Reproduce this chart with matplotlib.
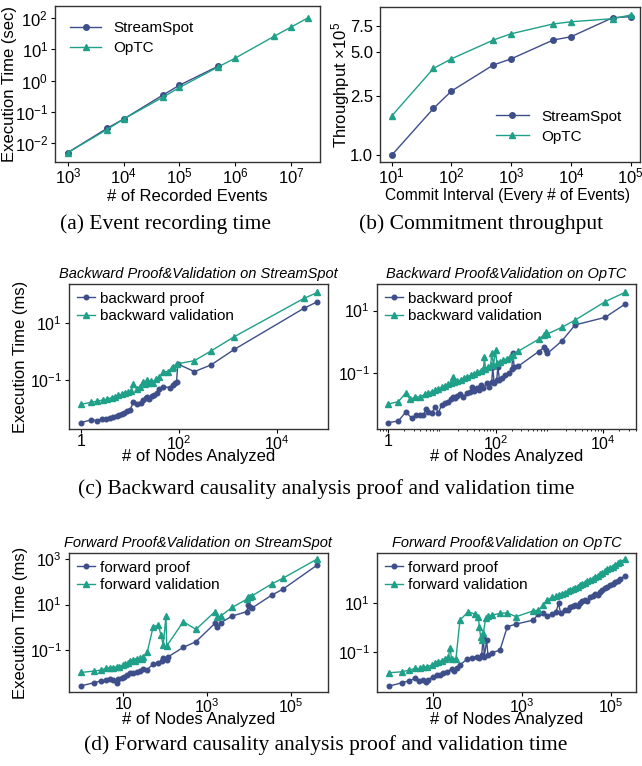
import matplotlib
matplotlib.use("Agg")
import matplotlib.pyplot as plt
import numpy as np

plt.rcParams['font.family'] = ['Liberation Sans', 'DejaVu Sans']
plt.rcParams['mathtext.fontset'] = 'custom'
plt.rcParams['mathtext.rm'] = 'Liberation Sans'
plt.rcParams['mathtext.it'] = 'Liberation Sans:italic'
plt.rcParams['axes.unicode_minus'] = True

C_SS = '#3d4e8a'
C_OP = '#1fa088'

# (a) event recording time
rec_ss_x = [1e3, 5e3, 1e4, 5e4, 1e5, 5e5]
rec_ss_y = [0.005, 0.0295, 0.059, 0.34, 0.71, 2.9]
rec_op_x = [1e3, 5e3, 1e4, 5e4, 1e5, 5e5, 1e6, 5e6, 1e7, 2e7]
rec_op_y = [0.005, 0.027, 0.059, 0.29, 0.60, 2.75, 5.2, 26, 51, 100]

# (b) commitment throughput (x1e5)
com_x = [10, 50, 100, 500, 1000, 5000, 10000, 50000, 100000]
com_ss = [1.0, 2.07, 2.71, 4.06, 4.47, 5.98, 6.3, 8.47, 8.6]
com_op = [1.84, 3.85, 4.47, 5.98, 6.6, 7.68, 7.95, 8.34, 8.83]

# (c) backward, StreamSpot
bss_p_x = [1, 1.58, 2.09, 2.65, 3.24, 3.92, 4.58, 5.36, 6.08, 6.79, 7.57, 8.59, 10.0,
           11.8, 13.7, 16.6, 18.8, 21, 22.7, 25, 27.9, 31.1, 35.3, 40, 48.3, 66, 75,
           83.6, 90, 95, 208, 455, 1370, 36000, 68000]
bss_p_y = [0.0031, 0.0039, 0.0037, 0.0041, 0.0042, 0.0047, 0.0051, 0.0055, 0.006,
           0.0063, 0.0070, 0.0081, 0.0087, 0.0163, 0.0138, 0.015, 0.0196, 0.0224,
           0.026, 0.021, 0.027, 0.0296, 0.0338, 0.047, 0.058, 0.054, 0.067, 0.080,
           0.087, 0.37, 0.197, 0.34, 1.21, 34, 58]
bss_v_x = [1, 1.58, 2.09, 2.86, 3.45, 4.24, 4.95, 5.8, 6.8, 7.9, 9.3, 10.5, 11.8, 13.7,
           16.1, 18.2, 20.3, 22, 24.5, 27, 30, 34, 40, 48.3, 61, 71, 77, 90, 208, 455,
           1370, 36000, 68000]
bss_v_y = [0.0138, 0.0162, 0.0177, 0.0197, 0.021, 0.024, 0.026, 0.029, 0.031, 0.036,
           0.039, 0.042, 0.070, 0.049, 0.058, 0.087, 0.072, 0.1, 0.076, 0.095, 0.080,
           0.106, 0.124, 0.197, 0.197, 0.27, 0.295, 0.37, 0.48, 1.06, 3.4, 76, 123]

# (c) backward, OpTC
bop_p_x = [1.0, 1.56, 2.16, 2.76, 3.32, 3.94, 4.54, 5.09, 5.63, 6.49, 7.49, 8.64, 9.96,
           11.5, 13.3, 14.6, 16, 17.6, 19.5, 21.9, 25.2, 29, 33.5, 37, 39.8, 44.6, 50,
           53.7, 59.4, 68.5, 76.8, 84.8, 88.6, 93.8, 105, 110, 118, 130, 150, 174, 200,
           209, 221, 266, 627, 798, 870, 920, 1700, 3010, 10900, 25600]
bop_p_y = [0.00264, 0.0030, 0.0059, 0.0036, 0.0046, 0.0046, 0.0046, 0.0070, 0.0059,
           0.0052, 0.0086, 0.0055, 0.0097, 0.011, 0.0124, 0.0147, 0.0179, 0.0158,
           0.0188, 0.0212, 0.0179, 0.0228, 0.0258, 0.037, 0.0278, 0.033, 0.029, 0.042,
           0.033, 0.048, 0.037, 0.054, 0.155, 0.048, 0.061, 0.162, 0.061, 0.069, 0.088,
           0.1, 0.134, 0.455, 0.162, 0.17, 0.49, 0.67, 0.55, 0.43, 1.07, 3.5, 6.1, 16.3]
bop_v_x = [1.0, 1.56, 2.16, 2.56, 3.18, 3.94, 4.88, 5.63, 6.49, 7.49, 8.64, 9.96, 11.5,
           13.3, 14.9, 16, 16.9, 19.5, 22.5, 25.9, 29.9, 34.5, 39.8, 45.8, 52.8, 59.4,
           61.9, 64.7, 73.7, 81, 84.8, 91, 100, 105, 121, 140, 161, 186, 209, 266, 627,
           798, 870, 920, 1700, 3010, 10900, 25600]
bop_v_y = [0.0104, 0.0124, 0.024, 0.0147, 0.017, 0.0179, 0.0212, 0.0229, 0.0258, 0.029,
           0.032, 0.0355, 0.040, 0.045, 0.049, 0.078, 0.051, 0.057, 0.061, 0.069, 0.076,
           0.086, 0.097, 0.107, 0.121, 0.134, 0.32, 0.14, 0.159, 0.184, 0.455, 0.18,
           0.55, 0.207, 0.229, 0.26, 0.29, 0.34, 0.38, 0.51, 1.21, 1.67, 2.13, 1.8,
           2.93, 5.0, 19.4, 38.5]

# (d) forward, StreamSpot
fss_p_x = [1, 2, 2.87, 3.85, 4.8, 5.77, 6.92, 7.59, 9.1, 10.4, 12, 14.4, 17.3, 20.8, 25,
           30, 36, 52, 68.7, 82.4, 90, 109, 119, 272, 545, 1550, 1770, 2120, 4030, 8880,
           9730, 10660, 11700, 35200, 64400, 434000]
fss_p_y = [0.00278, 0.00377, 0.00446, 0.0049, 0.0053, 0.0049, 0.00377, 0.0053, 0.0058,
           0.0069, 0.0079, 0.0104, 0.0097, 0.0115, 0.0122, 0.0145, 0.0135, 0.0248,
           0.0266, 0.0347, 0.044, 0.037, 0.052, 0.134, 0.237, 1.5, 1.08, 1.6, 3.16,
           4.9, 9.6, 8.1, 6.9, 26, 46.5, 546]
fss_v_x = [1, 2, 2.9, 3.85, 4.8, 5.77, 6.92, 8.0, 9.6, 11, 12.7, 14.4, 17.3, 19, 20.8,
           25, 27.5, 30, 37.5, 52, 68.7, 79.5, 90, 105, 109, 272, 545, 1550, 1770, 2120,
           4030, 8880, 9730, 10660, 11700, 35200, 64400, 434000]
fss_v_y = [0.0107, 0.0122, 0.0135, 0.016, 0.0171, 0.0171, 0.019, 0.019, 0.0224, 0.0248,
           0.0266, 0.0348, 0.037, 0.0348, 0.040, 0.044, 0.040, 0.049, 0.086, 1.08, 1.27,
           0.46, 0.169, 3.16, 0.153, 1.78, 0.82, 4.9, 2.76, 3.16, 7.6, 17, 21, 22.4,
           23.8, 80, 141, 1000]

# (d) forward, OpTC
fop_p_x = [1, 1.94, 2.89, 3.87, 4.84, 5.96, 6.84, 7.72, 10, 11.9, 14.1, 16.8, 20, 25.8,
           29.1, 33.4, 39.7, 56, 72.7, 94, 108, 122, 133, 140, 158, 169, 205, 315, 460,
           721, 1770, 2290, 2970, 3530, 4720, 5710, 6550, 7270, 9100, 10500, 11800,
           13500, 15300, 17500, 19800, 22500, 25600, 29000, 33100, 38000, 43000, 49000,
           55600, 63000, 72100, 82000, 93300, 107000, 121000, 139000, 157000, 203000]
fop_p_y = [0.00397, 0.0054, 0.0066, 0.0082, 0.0066, 0.0070, 0.0056, 0.0074, 0.0096,
           0.0108, 0.0112, 0.0139, 0.0153, 0.0196, 0.0168, 0.0209, 0.0286, 0.049, 0.057,
           0.0625, 0.057, 0.073, 0.41, 0.0625, 0.30, 0.073, 0.091, 0.117, 1.05, 1.35,
           1.96, 3.44, 3.9, 2.86, 3.44, 4.3, 9.4, 3.67, 5.3, 5.0, 6.5, 7.4, 8.0, 7.6,
           10, 11.5, 12.8, 12.0, 16.5, 18.5, 22.6, 21.5, 28, 33, 38.5, 44, 52.6, 58,
           72, 80, 95, 122]
fop_v_x = [1, 1.94, 2.89, 3.87, 5.0, 5.96, 7.1, 9.2, 10.9, 12.9, 15.4, 18.3, 21.7, 23.7,
           25.8, 32.3, 39.7, 61, 86, 103, 108, 116, 122, 133, 150, 172, 205, 315, 460,
           721, 1770, 2290, 2970, 3530, 4720, 5600, 6550, 7800, 9100, 10500, 11800,
           13500, 15300, 17500, 19800, 22500, 25600, 29000, 33100, 38000, 43000, 49000,
           55600, 63000, 72100, 82000, 93300, 107000, 121000, 139000, 157000, 203000]
fop_v_y = [0.0139, 0.0153, 0.0179, 0.0209, 0.0209, 0.0244, 0.0244, 0.0286, 0.0334,
           0.039, 0.043, 0.053, 0.0625, 0.137, 0.053, 0.053, 1.96, 4.3, 3.44, 2.69,
           1.05, 0.41, 0.30, 0.56, 2.29, 2.86, 3.14, 3.67, 3.9, 2.69, 4.7, 5.0, 8.0,
           12.8, 16.5, 18.0, 20, 23, 25.6, 30, 32.9, 37, 41, 46, 52.6, 58, 65.5, 74,
           84, 95, 108, 125, 143, 165, 196, 230, 268, 300, 344, 400, 471, 588]

W, H = 642, 766
fig = plt.figure(figsize=(W / 100, H / 100), dpi=100)


def box(x0, x1, y0, y1):
    # pixel box -> figure fraction
    return [x0 / W, 1 - y1 / H, (x1 - x0) / W, (y1 - y0) / H]


def style(ax, fs=12):
    ax.set_xscale('log')
    ax.set_yscale('log')
    for s in ax.spines.values():
        s.set_color('#333333')
        s.set_linewidth(1.0)
    ax.tick_params(which='major', length=3, width=0.8, labelsize=fs, pad=2)
    ax.tick_params(which='minor', length=1.5, width=0.6)
    ax.tick_params(axis='x', which='major', pad=0.5)


lkw = dict(lw=1.0)

# ---- (a)
ax = fig.add_axes(box(55, 320, 6, 162))
style(ax)
ax.plot(rec_ss_x, rec_ss_y, marker='o', ms=4, color=C_SS, label='StreamSpot', **lkw)
ax.plot(rec_op_x, rec_op_y, marker='^', ms=4.5, color=C_OP, label='OpTC', **lkw)
ax.set_xlim(589, 3.3e7)
ax.set_ylim(0.0025, 240)
ax.set_xticks([1e3, 1e4, 1e5, 1e6, 1e7])
ax.set_yticks([1e-2, 1e-1, 1, 10, 100])
ax.yaxis.set_minor_locator(matplotlib.ticker.NullLocator())
ax.xaxis.set_minor_locator(matplotlib.ticker.NullLocator())
ax.set_xlabel('# of Recorded Events', fontsize=12)
ax.set_ylabel('Execution Time (sec)', fontsize=12)
ax.xaxis.set_label_coords(0.5, -0.17)
ax.yaxis.set_label_coords(-0.143, 0.5)
ax.legend(loc='upper left', frameon=False, fontsize=11, handlelength=2.0,
          handletextpad=0.8, borderaxespad=0.6, labelspacing=0.4)

# ---- (b)
ax = fig.add_axes(box(380, 640, 7, 162))
style(ax)
ax.plot(com_x, com_ss, marker='o', ms=4, color=C_SS, label='StreamSpot', **lkw)
ax.plot(com_x, com_op, marker='^', ms=4.5, color=C_OP, label='OpTC', **lkw)
ax.set_xlim(6.37, 1.43e5)
ax.set_ylim(0.9, 10)
ax.set_xticks([10, 100, 1e3, 1e4, 1e5])
ax.xaxis.set_minor_locator(matplotlib.ticker.NullLocator())
ax.yaxis.set_minor_locator(matplotlib.ticker.NullLocator())
ax.set_yticks([1.0, 2.5, 5.0, 7.5])
ax.set_yticklabels(['1.0', '2.5', '5.0', '7.5'])
ax.set_xlabel('Commit Interval (Every # of Events)', fontsize=11.2)
ax.set_ylabel(r'Throughput $\times10^5$', fontsize=12)
ax.xaxis.set_label_coords(0.49, -0.17)
ax.yaxis.set_label_coords(-0.108, 0.5)
ax.legend(loc='lower right', frameon=False, fontsize=11, handlelength=2.2,
          handletextpad=0.8, borderaxespad=0.8, labelspacing=0.4)


def cd_panel(px, title, xs, ys, labels, xlim, ylim, xt, xtl, yt, ytl, ylabel):
    ax = fig.add_axes(px)
    style(ax, fs=11.5)
    ax.plot(xs[0], ys[0], marker='o', ms=3.3, color=C_SS, label=labels[0], **lkw)
    ax.plot(xs[1], ys[1], marker='^', ms=3.8, color=C_OP, label=labels[1], **lkw)
    ax.set_xlim(*xlim)
    ax.set_ylim(*ylim)
    ax.set_xticks(xt)
    ax.set_xticklabels(xtl)
    ax.set_yticks(yt)
    ax.set_yticklabels(ytl)
    ax.yaxis.set_minor_locator(matplotlib.ticker.NullLocator())
    ax.set_xlabel('# of Nodes Analyzed', fontsize=12)
    hgt = px[3] * H
    ax.xaxis.set_label_coords(0.5, -20 / hgt)
    if ylabel:
        ax.set_ylabel('Execution Time (ms)', fontsize=12)
        ax.yaxis.set_label_coords(-0.158, 0.5)
    ax.set_title(title, fontsize=10.5, style='italic', pad=4)
    ax.legend(loc='upper left', frameon=False, fontsize=11, handlelength=1.2,
              handletextpad=0.3, borderaxespad=0.1, labelspacing=0.25)
    return ax


cd_panel(box(69, 328, 284, 429), 'Backward Proof&Validation on StreamSpot',
         [bss_p_x, bss_v_x], [bss_p_y, bss_v_y], ['backward proof', 'backward validation'],
         (0.569, 1.12e5), (0.00186, 245), [1, 1e2, 1e4], ['1', r'$10^2$', r'$10^4$'],
         [0.1, 10], [r'$10^{-1}$', r'$10^1$'], True)
cd_panel(box(377, 636, 284, 429), 'Backward Proof&Validation on OpTC',
         [bop_p_x, bop_v_x], [bop_p_y, bop_v_y], ['backward proof', 'backward validation'],
         (0.624, 40700), (0.00166, 70.8), [1, 1e2, 1e4], ['1', r'$10^2$', r'$10^4$'],
         [0.1, 10], [r'$10^{-1}$', r'$10^1$'], False)
cd_panel(box(69, 328, 553, 692), 'Forward Proof&Validation on StreamSpot',
         [fss_p_x, fss_v_x], [fss_p_y, fss_v_y], ['forward proof', 'forward validation'],
         (0.505, 7.8e5), (0.00148, 1820), [10, 1e3, 1e5], ['10', r'$10^3$', r'$10^5$'],
         [0.1, 10, 1000], [r'$10^{-1}$', r'$10^1$', r'$10^3$'], True)
cd_panel(box(377, 636, 553, 692), 'Forward Proof&Validation on OpTC',
         [fop_p_x, fop_v_x], [fop_p_y, fop_v_y], ['forward proof', 'forward validation'],
         (0.543, 3.59e5), (0.00229, 1070), [10, 1e3, 1e5], ['10', r'$10^3$', r'$10^5$'],
         [0.1, 10], [r'$10^{-1}$', r'$10^1$'], False)

cap = dict(fontsize=15.5, family='Liberation Serif', ha='center', va='center')
fig.text(166 / W, 1 - 224 / H, '(a) Event recording time', **cap)
fig.text(481 / W, 1 - 224 / H, '(b) Commitment throughput', **cap)
fig.text(326 / W, 1 - 489 / H, '(c) Backward causality analysis proof and validation time', **cap)
fig.text(326 / W, 1 - 745 / H, '(d) Forward causality analysis proof and validation time', **cap)

fig.savefig('out.png', dpi=100)
